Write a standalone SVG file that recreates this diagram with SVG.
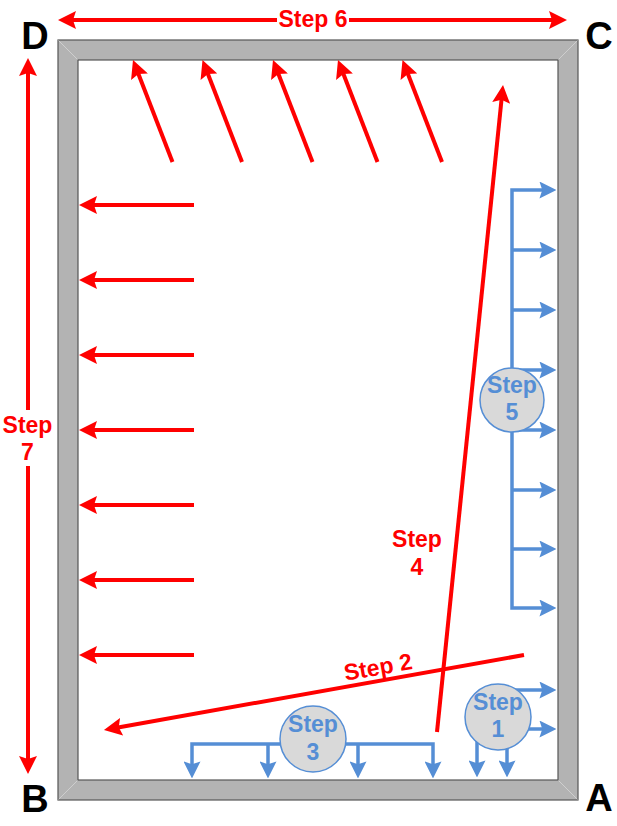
<svg xmlns="http://www.w3.org/2000/svg" width="617" height="826" viewBox="0 0 617 826">
<style>
.r{stroke:#ff0000;stroke-width:4;fill:none}
.b{stroke:#558ed5;stroke-width:3.5;fill:none}
.ra{marker-end:url(#ah-r)}
.rr{marker-start:url(#ah-r);marker-end:url(#ah-r)}
.ba{marker-end:url(#ah-b)}
.bb{marker-start:url(#ah-b);marker-end:url(#ah-b)}
.lt{font-family:"Liberation Sans",Arial,sans-serif;font-weight:bold;font-size:23px;text-anchor:middle}
.red{fill:#ff0000}
.blue{fill:#558ed5}
.big{font-family:"Liberation Sans",Arial,sans-serif;font-weight:bold;font-size:38px;text-anchor:middle;fill:#000}
.circ{fill:#d9d9d9;stroke:#558ed5;stroke-width:1.5}
</style>
<defs>
<marker id="ah-r" viewBox="0 0 18 18" refX="8" refY="9" markerWidth="18" markerHeight="18" markerUnits="userSpaceOnUse" orient="auto-start-reverse">
<path d="M0,0 L18,9 L0,18 L3,9 Z" fill="#ff0000"/>
</marker>
<marker id="ah-b" viewBox="0 0 18 18" refX="8" refY="9" markerWidth="17" markerHeight="17" markerUnits="userSpaceOnUse" orient="auto-start-reverse">
<path d="M0,0 L18,9 L0,18 L3,9 Z" fill="#558ed5"/>
</marker>
</defs>
<rect width="617" height="826" fill="#fff"/>
<g id="frame">
<rect x="58" y="40" width="520" height="760" fill="#b3b3b3" stroke="#555" stroke-width="1.2"/>
<rect x="78" y="60" width="480" height="720" fill="#fff" stroke="#555" stroke-width="1.2"/>
<g stroke="#cfcfcf" stroke-width="1">
<line x1="58.6" y1="40.6" x2="77.4" y2="59.4"/>
<line x1="577.4" y1="40.6" x2="558.6" y2="59.4"/>
<line x1="58.6" y1="799.4" x2="77.4" y2="780.6"/>
<line x1="577.4" y1="799.4" x2="558.6" y2="780.6"/>
</g>
</g>
<g id="corner-labels">
<text id="label-D" class="big" x="35" y="49">D</text>
<text id="label-C" class="big" x="599" y="49">C</text>
<text id="label-B" class="big" x="35" y="812">B</text>
<text id="label-A" class="big" x="599" y="811">A</text>
</g>
<g id="connectors">
<line class="r rr" x1="68" y1="20" x2="557" y2="20"/>
<line class="r rr" x1="28" y1="68" x2="28" y2="764"/>
<line class="r ra" x1="172.5" y1="162" x2="136.6" y2="69.3"/>
<line class="r ra" x1="242" y1="162" x2="206.1" y2="69.3"/>
<line class="r ra" x1="312.5" y1="162" x2="276.6" y2="69.3"/>
<line class="r ra" x1="377.5" y1="162" x2="341.6" y2="69.3"/>
<line class="r ra" x1="442" y1="162" x2="406.1" y2="69.3"/>
<line class="r ra" x1="194" y1="205" x2="89" y2="205"/>
<line class="r ra" x1="194" y1="280" x2="89" y2="280"/>
<line class="r ra" x1="194" y1="355" x2="89" y2="355"/>
<line class="r ra" x1="194" y1="430" x2="89" y2="430"/>
<line class="r ra" x1="194" y1="505" x2="89" y2="505"/>
<line class="r ra" x1="194" y1="580" x2="89" y2="580"/>
<line class="r ra" x1="194" y1="655" x2="89" y2="655"/>
<line class="r ra" x1="437" y1="732" x2="502" y2="94.9"/>
<line class="r ra" x1="524" y1="655" x2="113.8" y2="728.2"/>
<path class="b bb" d="M547,190 H512 V608 H547"/>
<line class="b ba" x1="512" y1="250" x2="547" y2="250"/>
<line class="b ba" x1="512" y1="310" x2="547" y2="310"/>
<line class="b ba" x1="512" y1="370" x2="547" y2="370"/>
<line class="b ba" x1="512" y1="430" x2="547" y2="430"/>
<line class="b ba" x1="512" y1="490" x2="547" y2="490"/>
<line class="b ba" x1="512" y1="549" x2="547" y2="549"/>
<path class="b bb" d="M192,769 V744 H433 V769"/>
<line class="b ba" x1="268" y1="744" x2="268" y2="769"/>
<line class="b ba" x1="358" y1="744" x2="358" y2="769"/>
<line class="b ba" x1="498" y1="690" x2="547" y2="690"/>
<line class="b ba" x1="498" y1="729" x2="547" y2="729"/>
<line class="b ba" x1="477" y1="717" x2="477" y2="768"/>
<line class="b ba" x1="507" y1="717" x2="507" y2="768"/>
</g>
<g id="step6">
<rect x="277" y="9" width="72" height="22" fill="#fff"/>
<text class="lt red" x="313" y="27">Step 6</text>
</g>
<g id="step7">
<rect x="1" y="410" width="54" height="56" fill="#fff"/>
<text class="lt red" x="27.5" y="433">Step</text>
<text class="lt red" x="27.5" y="460">7</text>
</g>
<g id="step4">
<text class="lt red" x="417" y="547">Step</text>
<text class="lt red" x="417" y="575">4</text>
</g>
<g id="step2">
<text class="lt red" x="378" y="675" transform="rotate(-10 378 667)">Step 2</text>
</g>
<g id="step5">
<circle class="circ" cx="512" cy="400" r="32"/>
<text class="lt blue" x="512" y="393">Step</text>
<text class="lt blue" x="512" y="420">5</text>
</g>
<g id="step1">
<circle class="circ" cx="498" cy="717" r="33"/>
<text class="lt blue" x="498" y="710">Step</text>
<text class="lt blue" x="498" y="737">1</text>
</g>
<g id="step3">
<circle class="circ" cx="313" cy="739" r="33"/>
<text class="lt blue" x="313" y="732">Step</text>
<text class="lt blue" x="313" y="760">3</text>
</g>
</svg>
